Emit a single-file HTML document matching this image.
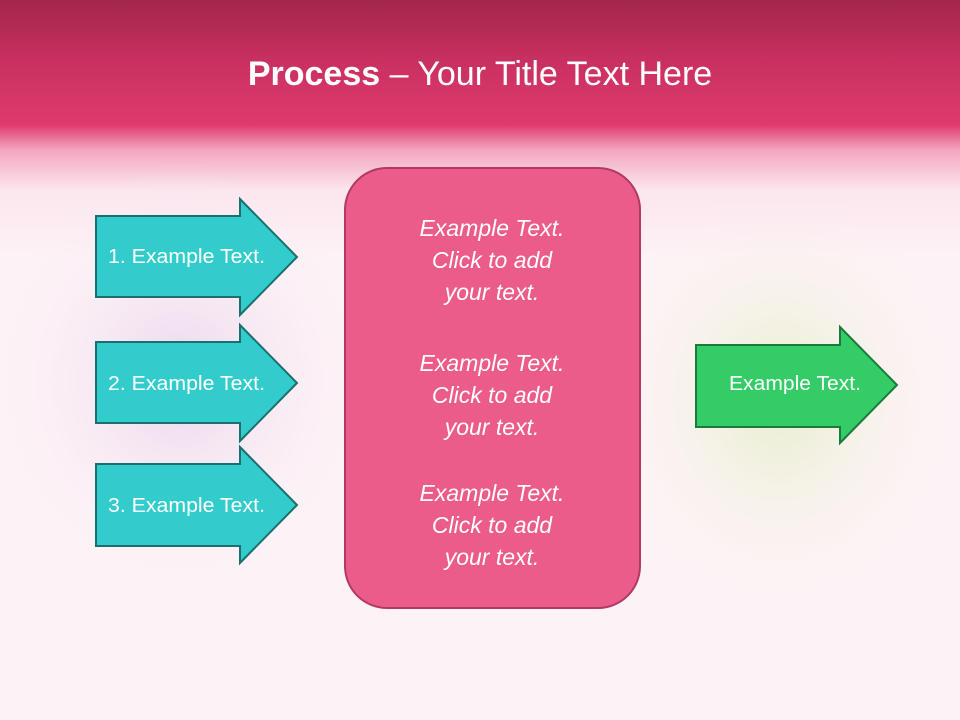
<!DOCTYPE html>
<html><head><style>
body{margin:0;width:960px;height:720px;overflow:hidden;font-family:"Liberation Sans",sans-serif;}
.bg{position:absolute;left:0;top:0;width:960px;height:720px;background:linear-gradient(#a3264c 0px,#c83060 60px,#e03a6e 125px,#f3a6bf 150px,#fbe6ee 190px,#fdf3f6 260px,#fdf3f6 720px);}
.title{position:absolute;top:55px;left:0;width:960px;text-align:center;color:#fff;font-size:34px;}
</style></head><body>
<div class="bg"></div>
<svg width="960" height="720" style="position:absolute;left:0;top:0">
<defs><radialGradient id="p" cx="0.5" cy="0.5" r="0.5"><stop offset="0" stop-color="#d8b8e6" stop-opacity="0.5"/><stop offset="1" stop-color="#fdf3f6" stop-opacity="0"/></radialGradient>
<radialGradient id="g" cx="0.5" cy="0.5" r="0.5"><stop offset="0" stop-color="#d8ecb0" stop-opacity="0.6"/><stop offset="1" stop-color="#fdf3f6" stop-opacity="0"/></radialGradient></defs>
<ellipse cx="180" cy="380" rx="200" ry="220" fill="url(#p)"/>
<ellipse cx="780" cy="400" rx="190" ry="220" fill="url(#g)"/>
<g fill="#33cccc" stroke="#1b6f6f" stroke-width="2">
<polygon points="96,216 240,216 240,199 297,257 240,315 240,297 96,297"/>
<polygon points="96,342 240,342 240,325 297,383 240,441 240,423 96,423"/>
<polygon points="96,464 240,464 240,447 297,505 240,563 240,546 96,546"/>
</g>
<polygon points="696,345 840,345 840,327 897,385 840,443 840,427 696,427" fill="#33cc66" stroke="#1b7a3c" stroke-width="2"/>
<rect x="345" y="168" width="295" height="440" rx="42" fill="#ec5c8a" stroke="#b03a64" stroke-width="2"/>
<g fill="#fff" font-family="Liberation Sans,sans-serif" font-size="20">
<text x="108" y="263" textLength="157" lengthAdjust="spacingAndGlyphs">1. Example Text.</text>
<text x="108" y="390" textLength="157" lengthAdjust="spacingAndGlyphs">2. Example Text.</text>
<text x="108" y="512" textLength="157" lengthAdjust="spacingAndGlyphs">3. Example Text.</text>
<text x="729" y="390" textLength="132" lengthAdjust="spacingAndGlyphs">Example Text.</text>
</g>
<g fill="#fff" font-family="Liberation Sans,sans-serif" font-size="23" font-style="italic" text-anchor="middle">
<text x="492" y="236">Example Text.</text><text x="492" y="268">Click  to add</text><text x="492" y="300">your text.</text>
<text x="492" y="371">Example Text.</text><text x="492" y="403">Click  to add</text><text x="492" y="435">your text.</text>
<text x="492" y="501">Example Text.</text><text x="492" y="533">Click  to add</text><text x="492" y="565">your text.</text>
</g>
</svg>
<div class="title"><b>Process</b> – Your Title Text Here</div>
</body></html>
